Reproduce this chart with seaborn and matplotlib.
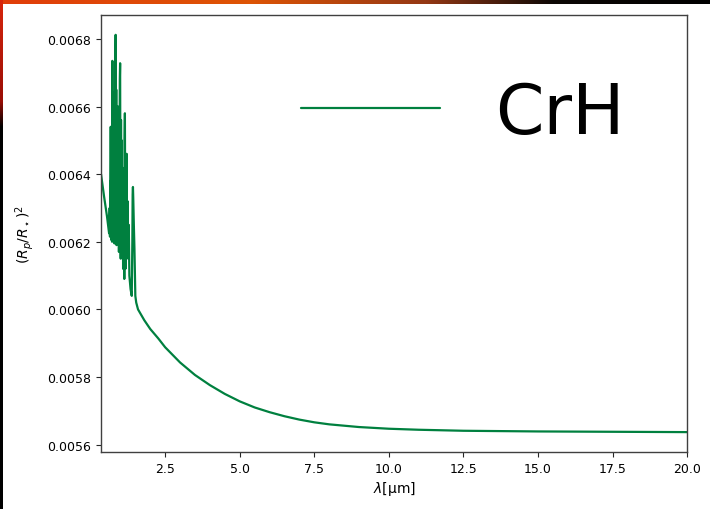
import numpy as np
import pandas as pd
import matplotlib
matplotlib.use("Agg")
import matplotlib.pyplot as plt
import seaborn as sns

# Transit depth of a CrH-dominated atmosphere versus wavelength
wavelength_band = [
    0.35, 0.45, 0.55, 0.62, 0.64, 0.65, 0.66, 0.67, 0.675, 0.68, 0.69, 0.70,
    0.71, 0.72, 0.73, 0.74, 0.75, 0.76, 0.77, 0.78, 0.79, 0.80, 0.81, 0.82,
    0.83, 0.84, 0.85, 0.86, 0.87, 0.88, 0.89, 0.90, 0.91, 0.92, 0.93, 0.94,
    0.95, 0.96, 0.97, 0.98, 0.99, 1.00, 1.01, 1.02, 1.03, 1.04, 1.05, 1.06,
    1.07, 1.08, 1.09, 1.10, 1.11, 1.12, 1.13, 1.14, 1.15, 1.16, 1.17, 1.18,
    1.19, 1.20, 1.21, 1.22, 1.24, 1.26, 1.28, 1.30, 1.34, 1.38, 1.40, 1.41,
    1.42, 1.43, 1.45, 1.47, 1.50, 1.53, 1.59,
]
depth_band = [
    0.006400, 0.006335, 0.006275, 0.006225, 0.006300, 0.006215, 0.006380,
    0.006220, 0.006540, 0.006230, 0.006500, 0.006205, 0.006460, 0.006200,
    0.006735, 0.006250, 0.006600, 0.006210, 0.006640, 0.006230, 0.006560,
    0.006195, 0.006620, 0.006260, 0.006700, 0.006812, 0.006300, 0.006650,
    0.006190, 0.006580, 0.006240, 0.006520, 0.006200, 0.006600, 0.006280,
    0.006450, 0.006170, 0.006480, 0.006230, 0.006680, 0.006728, 0.006300,
    0.006150, 0.006560, 0.006200, 0.006500, 0.006250, 0.006420, 0.006160,
    0.006380, 0.006120, 0.006300, 0.006140, 0.006350, 0.006090, 0.006500,
    0.006580, 0.006300, 0.006120, 0.006460, 0.006150, 0.006400, 0.006460,
    0.006200, 0.006320, 0.006150, 0.006250, 0.006100, 0.006060, 0.006040,
    0.006200, 0.006340, 0.006362, 0.006330, 0.006250, 0.006180, 0.006040,
    0.006020, 0.006000,
]
wavelength_cont = [
    1.8, 2.0, 2.27, 2.5, 3.0, 3.5, 4.0, 4.5, 5.0, 5.5, 6.0, 6.5, 7.0, 7.5,
    8.0, 9.0, 10.0, 11.0, 12.5, 15.0, 17.5, 20.0,
]
depth_cont = [
    0.005968, 0.005942, 0.005914, 0.005888, 0.005843, 0.005806, 0.005776,
    0.005750, 0.005728, 0.005710, 0.005696, 0.005684, 0.005674, 0.005666,
    0.005660, 0.005652, 0.005647, 0.005644, 0.005641, 0.005639, 0.005638,
    0.005637,
]
species = "CrH"

df = pd.DataFrame({
    "wavelength": wavelength_band + wavelength_cont,
    "depth": depth_band + depth_cont,
})

sns.set_style("ticks")
plt.rcParams["font.family"] = ["DejaVu Sans"]
plt.rcParams["text.color"] = "black"

fig = plt.figure(figsize=(7.1, 5.1), dpi=100)

# slide-style frame: warm strip on top and a thin strip down the left edge
bg = fig.add_axes([0, 0, 1, 1], zorder=-10)
H, W = 510, 710
img = np.ones((H, W, 3))
t = np.linspace(0, 1, W)
top_r = np.interp(t, [0, 0.35, 0.6, 0.78, 1], [0.88, 0.87, 0.58, 0.05, 0.0])
top_g = np.interp(t, [0, 0.35, 0.6, 0.78, 1], [0.24, 0.33, 0.22, 0.03, 0.0])
top_b = np.interp(t, [0, 0.35, 0.6, 0.78, 1], [0.04, 0.02, 0.08, 0.02, 0.0])
img[:5, :, 0] = top_r
img[:5, :, 1] = top_g
img[:5, :, 2] = top_b
s = np.linspace(0, 1, H)
img[:, :3, 0] = np.interp(s, [0, 0.2, 0.25, 1], [0.85, 0.6, 0.0, 0.0])[:, None]
img[:, :3, 1] = np.interp(s, [0, 0.2, 0.25, 1], [0.15, 0.05, 0.0, 0.0])[:, None]
img[:, :3, 2] = np.interp(s, [0, 0.2, 0.25, 1], [0.05, 0.02, 0.0, 0.0])[:, None]
bg.imshow(img, aspect="auto", interpolation="nearest")
bg.set_axis_off()

ax = fig.add_axes([0.1423, 0.1118, 0.8254, 0.8569])
sns.lineplot(data=df, x="wavelength", y="depth", sort=False, estimator=None,
             color="#00803f", linewidth=1.6, label=species, ax=ax)

ax.set_xlim(0.35, 20.0)
ax.set_xticks([2.5, 5.0, 7.5, 10.0, 12.5, 15.0, 17.5, 20.0])
ax.set_yticks([0.0056, 0.0058, 0.0060, 0.0062, 0.0064, 0.0066, 0.0068])
ax.set_yticklabels([f"{v:.4f}" for v in ax.get_yticks()])
ax.set_xticklabels([f"{v:.1f}" for v in ax.get_xticks()])
ax.tick_params(labelsize=9, length=3.5, color="0.15", labelcolor="black")
for sp in ax.spines.values():
    sp.set_color("0.25")
    sp.set_linewidth(1.0)

ax.set_xlabel(r"$\lambda$[μm]", fontsize=10, color="black", labelpad=3)
ax.set_ylabel(r"$(R_p/R_\star)^2$", fontsize=10, color="black", labelpad=8)

leg = ax.legend(loc="upper right", fontsize=50, frameon=False,
                bbox_to_anchor=(1.0, 0.995))
for txt in leg.get_texts():
    txt.set_color("black")

fig.savefig("out.png", dpi=100)
